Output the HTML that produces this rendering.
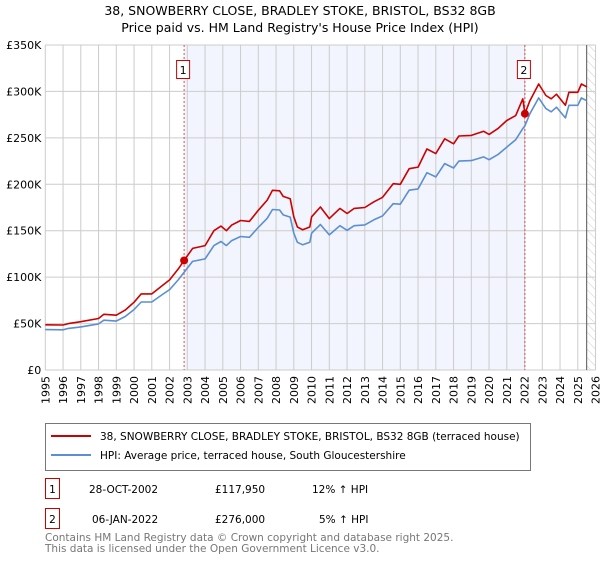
<!DOCTYPE html>
<html><head><meta charset="utf-8"><style>
body{margin:0;background:#fff;font-family:"Liberation Sans","DejaVu Sans",sans-serif;}
svg text{font-family:"DejaVu Sans","Liberation Sans",sans-serif;}
</style></head><body>
<svg id="chart" width="600" height="560" viewBox="0 0 600 560" xmlns="http://www.w3.org/2000/svg">
<defs><pattern id="hatch" width="6" height="6" patternUnits="userSpaceOnUse" patternTransform="rotate(-45)"><line x1="0" y1="0" x2="0" y2="6" stroke="#ccc" stroke-width="1"/></pattern></defs>
<text x="300" y="15" text-anchor="middle" font-size="12.5" fill="#000">38, SNOWBERRY CLOSE, BRADLEY STOKE, BRISTOL, BS32 8GB</text>
<text x="300" y="32" text-anchor="middle" font-size="12.5" fill="#000">Price paid vs. HM Land Registry's House Price Index (HPI)</text>
<g id="plot"></g>
<g>
<rect x="45.5" y="423.5" width="485" height="47" fill="#fff" stroke="#777"/>
<line x1="51" y1="436" x2="91" y2="436" stroke="#cc0000" stroke-width="2"/>
<text x="100" y="440" font-size="10.5" fill="#000">38, SNOWBERRY CLOSE, BRADLEY STOKE, BRISTOL, BS32 8GB (terraced house)</text>
<line x1="51" y1="455" x2="91" y2="455" stroke="#5b8fd1" stroke-width="2"/>
<text x="100" y="459" font-size="10.5" fill="#000">HPI: Average price, terraced house, South Gloucestershire</text>
</g>
<g>
<rect x="45.5" y="478.5" width="14" height="20" fill="#fff" stroke="#cc0000"/>
<text x="52.5" y="493" text-anchor="middle" font-size="10.5">1</text>
<text x="89" y="493" font-size="10.5">28-OCT-2002</text>
<text x="215" y="493" font-size="10.5">£117,950</text>
<text x="312" y="493" font-size="10.5">12% ↑ HPI</text>
</g>
<g>
<rect x="45.5" y="508.5" width="14" height="20" fill="#fff" stroke="#cc0000"/>
<text x="52.5" y="523" text-anchor="middle" font-size="10.5">2</text>
<text x="92" y="523" font-size="10.5">06-JAN-2022</text>
<text x="215" y="523" font-size="10.5">£276,000</text>
<text x="319" y="523" font-size="10.5">5% ↑ HPI</text>
</g>
<text x="45" y="541" font-size="10.5" fill="#777">Contains HM Land Registry data © Crown copyright and database right 2025.</text>
<text x="45" y="552" font-size="10.5" fill="#777">This data is licensed under the Open Government Licence v3.0.</text>
</svg>
<script>
const years=[1995,1996,1997,1998,1999,2000,2001,2002,2003,2004,2005,2006,2007,2008,2009,2010,2011,2012,2013,2014,2015,2016,2017,2018,2019,2020,2021,2022,2023,2024,2025,2026];
const yTicks=[0,50,100,150,200,250,300,350];
const yTickLabels=["£0","£50K","£100K","£150K","£200K","£250K","£300K","£350K"];
const dates=[1995,1996,1996.3,1997,1998,1998.3,1999,1999.5,2000,2000.4,2001,2001.6,2002,2002.5,2002.82,2003.3,2004,2004.5,2004.9,2005.2,2005.5,2006,2006.5,2007,2007.5,2007.8,2008.2,2008.4,2008.8,2009,2009.2,2009.5,2009.9,2010,2010.5,2011,2011.6,2012,2012.4,2013,2013.5,2014,2014.6,2015,2015.5,2016,2016.5,2017,2017.5,2018,2018.3,2019,2019.7,2020,2020.5,2021,2021.5,2021.9,2022.02,2022.3,2022.8,2023.2,2023.5,2023.8,2024.3,2024.5,2025,2025.2,2025.5];
const priceSeries=[48.7,48.5,50,52,55.5,60,59,64.5,73,82,82,91,97,109,118,131,134,150,155,150,156,161,160,172,183,193.5,193,187,184.5,165,154,151,154,165,175.5,163,174,168.5,174,175,181,186,200.6,200,216.8,218.5,238,233,249,243.6,252,252.6,257,253.7,260,268.7,274,292,276,290,308,295.6,292,297,285,299,299,308,305];
const hpiSeries=[43.5,43.3,44.8,46.4,49.6,53.6,52.7,57.6,65.2,73.2,73.2,81.3,86.6,97.3,105.3,117,119.6,134,138.4,134,139.3,143.8,142.9,153.6,163.4,172.8,172.3,167,164.7,147.3,137.5,134.8,137.5,147.3,156.7,145.5,155.4,150.4,155.4,156.3,161.6,166,179.1,178.6,193.6,195,212.5,208,222.3,217.5,225,225.5,229.5,226.5,232,240,248,260,263,276,293,281.5,278,283,271.5,285,285,293,290];
const saleDates=[2002.82,2022.02];
const salePrices=[117.95,276];
const saleLabels=["1","2"];
const dataEnd=2025.5;

const NS="http://www.w3.org/2000/svg";
const X0=45.3,XS=17.75,Y0=370,YS=0.9286;
const xs=t=>X0+(t-1995)*XS;
const ys=v=>Y0-v*YS;
const plot=document.getElementById('plot');
function mk(tag,attrs,parent){const e=document.createElementNS(NS,tag);for(const k in attrs)e.setAttribute(k,attrs[k]);(parent||plot).appendChild(e);return e;}
const L=xs(1995),R=xs(2026),T=ys(350),B=ys(0);
let sh=mk('rect',{x:xs(saleDates[0]),y:T,width:xs(saleDates[1])-xs(saleDates[0]),height:B-T,fill:'#f2f5fd'});


let ht=mk('rect',{x:xs(dataEnd),y:T,width:R-xs(dataEnd),height:B-T,fill:'url(#hatch)'});


years.forEach(y=>{
  const g=mk('line',{x1:xs(y),x2:xs(y),y1:T,y2:B,stroke:'#cccccc','stroke-width':1});
  
  
  const t=mk('text',{x:0,y:0,'font-size':11,'text-anchor':'end',transform:`translate(${xs(y)+4},${B+6}) rotate(-90)`});
  t.textContent=y;
  
  
});
yTicks.forEach((v,i)=>{
  const g=mk('line',{x1:L,x2:R,y1:ys(v),y2:ys(v),stroke:'#cccccc','stroke-width':1});
  
  
  const t=mk('text',{x:L-4,y:ys(v)+4,'font-size':11,'text-anchor':'end'});
  t.textContent=yTickLabels[i];
  
  
});
let el=mk('line',{x1:xs(dataEnd),x2:xs(dataEnd),y1:T,y2:B,stroke:'#555','stroke-width':1});


saleDates.forEach((d,i)=>{
  const l=mk('line',{x1:xs(d),x2:xs(d),y1:T,y2:B,stroke:'#e05050','stroke-width':1,'stroke-dasharray':'2,2'});
  
  
});
function line(arr,color,name){
  const p=mk('polyline',{points:dates.map((d,i)=>xs(d).toFixed(1)+','+ys(arr[i]).toFixed(1)).join(' '),fill:'none',stroke:color,'stroke-width':1.6,'stroke-linejoin':'round'});
  
  
}
line(hpiSeries,'#5b8fd1','hpi-line');
line(priceSeries,'#cc0000','price-line');
saleDates.forEach((d,i)=>{
  const c=mk('circle',{cx:xs(d),cy:ys(salePrices[i]),r:4,fill:'#cc0000'});
  
  
  const bx=mk('rect',{x:xs(d)-7.5,y:60.5,width:13,height:18,fill:'#fff',stroke:'#cc0000'});
  
  
  const t=mk('text',{x:xs(d)-1,y:74,'font-size':11,'text-anchor':'middle'});
  t.textContent=saleLabels[i];
  
  
});
</script>
</body></html>
